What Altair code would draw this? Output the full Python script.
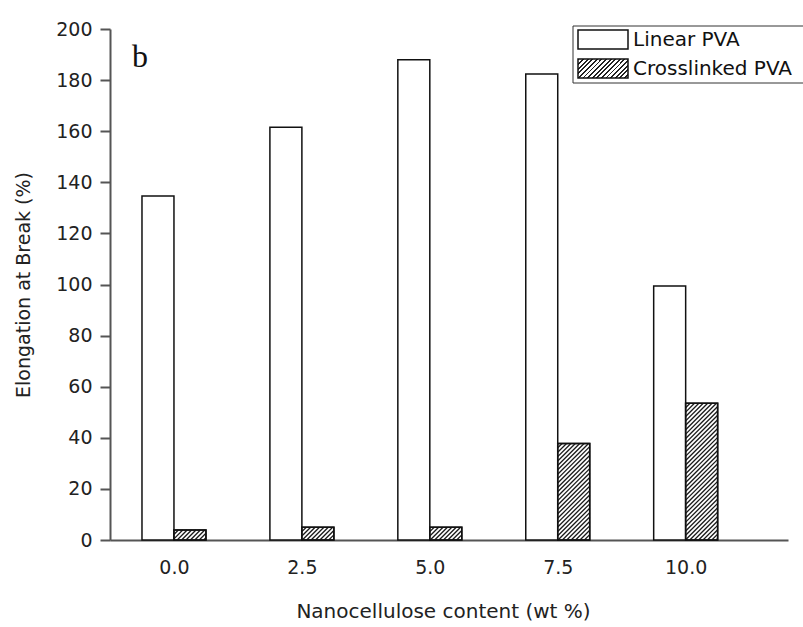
import altair as alt
import pandas as pd

# Elongation at break of PVA films vs. nanocellulose loading
categories = [0.0, 2.5, 5.0, 7.5, 10.0]
linear_pva = [134.6, 161.5, 188.0, 182.4, 99.4]
crosslinked_pva = [3.9, 5.0, 5.0, 37.8, 53.5]
series_names = ["Linear PVA", "Crosslinked PVA"]
y_ticks = list(range(0, 201, 20))

rows = []
for c, a, b in zip(categories, linear_pva, crosslinked_pva):
    rows.append({"c": c, "v": a, "series": series_names[0]})
    rows.append({"c": c, "v": b, "series": series_names[1]})
df = pd.DataFrame(rows)

# geometry constants (x units / y-units-per-x-unit for 45 degree hatching)
PLOT_W, PLOT_H = 678, 511
X_DOMAIN = [-1.25, 12.0]
BAR_W = 0.625
K = (PLOT_W / (X_DOMAIN[1] - X_DOMAIN[0])) / (PLOT_H / 200.0)
STEP = 0.086

FONT = "DejaVu Sans"
AXIS_COLOR = "#555555"
TEXT_COLOR = "#222222"

x_scale = alt.Scale(domain=X_DOMAIN, nice=False, zero=False)
y_scale = alt.Scale(domain=[0, 200], nice=False)

x_axis = alt.Axis(
    values=categories, format=".1f", ticks=False, grid=False,
    labelPadding=18, labelFontSize=19, labelFont=FONT, labelColor=TEXT_COLOR,
    domainColor=AXIS_COLOR, domainWidth=2,
    title="Nanocellulose content (wt %)", titleFont=FONT, titleFontSize=20,
    titleFontWeight="normal", titleColor=TEXT_COLOR,
    titleX=333, titleY=77, titleAlign="center", titleBaseline="alphabetic",
)
y_axis = alt.Axis(
    values=y_ticks, grid=False, tickSize=10, tickWidth=2, tickColor=AXIS_COLOR,
    labelPadding=8, labelFontSize=19, labelFont=FONT, labelColor=TEXT_COLOR,
    domainColor=AXIS_COLOR, domainWidth=2,
    title="Elongation at Break (%)", titleFont=FONT, titleFontSize=19,
    titleFontWeight="normal", titleColor=TEXT_COLOR,
    titleX=-87, titleY=PLOT_H / 2, titleAlign="center", titleBaseline="middle",
    titleAngle=-90,
)

base = alt.Chart(df).transform_calculate(
    x0=f"datum.series == '{series_names[0]}' ? datum.c - {BAR_W} : datum.c",
    x1=f"datum.series == '{series_names[0]}' ? datum.c : datum.c + {BAR_W}",
)

bars = base.mark_rect(fill="white", stroke="#111111", strokeWidth=1.5).encode(
    x=alt.X("x0:Q", scale=x_scale, axis=x_axis),
    x2="x1:Q",
    y=alt.Y("v:Q", scale=y_scale, axis=y_axis),
    y2=alt.datum(0),
)

# diagonal hatching clipped to each crosslinked bar
hatch = alt.Chart(df).transform_filter(
    f"datum.series == '{series_names[1]}'"
).transform_calculate(
    L="datum.c", R=f"datum.c + {BAR_W}", h=f"datum.v / {K}",
).transform_calculate(
    seq=f"sequence(0, ceil(({BAR_W} + datum.h) / {STEP}) + 1)"
).transform_flatten(["seq"]).transform_calculate(
    c0=f"datum.L - datum.h + datum.seq * {STEP}"
).transform_calculate(
    xs="max(datum.L, datum.c0)", xe="min(datum.R, datum.c0 + datum.h)"
).transform_filter("datum.xe > datum.xs + 0.002").transform_calculate(
    ys=f"{K} * (datum.xs - datum.c0)", ye=f"{K} * (datum.xe - datum.c0)"
).mark_rule(color="#1a1a1a", strokeWidth=1.3).encode(
    x=alt.X("xs:Q", scale=x_scale, axis=x_axis),
    x2="xe:Q",
    y=alt.Y("ys:Q", scale=y_scale, axis=y_axis),
    y2="ye:Q",
)

outline = base.transform_filter(
    f"datum.series == '{series_names[1]}'"
).mark_rect(fillOpacity=0, stroke="#111111", strokeWidth=1.5).encode(
    x=alt.X("x0:Q", scale=x_scale, axis=x_axis),
    x2="x1:Q",
    y=alt.Y("v:Q", scale=y_scale, axis=y_axis),
    y2=alt.datum(0),
)

# panel letter
one = pd.DataFrame({"k": [0]})
letter = alt.Chart(one).mark_text(
    text="b", font="Liberation Serif", fontSize=32, align="left",
    baseline="alphabetic", color="#111111",
).encode(x=alt.value(22), y=alt.value(38))

# legend box
legend_box = alt.Chart(one).mark_rect(
    fill="white", stroke="#333333", strokeWidth=1
).encode(x=alt.value(463), x2=alt.value(720), y=alt.value(-3), y2=alt.value(54))

swatch_plain = alt.Chart(one).mark_rect(
    fill="white", stroke="#111111", strokeWidth=1.5
).encode(x=alt.value(468), x2=alt.value(518), y=alt.value(1), y2=alt.value(20))

n_stripes = 15
stops = []
for i in range(n_stripes):
    a = i / n_stripes
    b = (i + 0.4) / n_stripes
    stops += [
        {"offset": a, "color": "#222222"},
        {"offset": b, "color": "#222222"},
        {"offset": b, "color": "#ffffff"},
        {"offset": (i + 1) / n_stripes, "color": "#ffffff"},
    ]
hatch_fill = {"gradient": "linear", "x1": 0, "y1": 0, "x2": 1.206, "y2": 0.458,
              "stops": stops}
swatch_hatch = alt.Chart(one).mark_rect(
    fill=hatch_fill, stroke="#111111", strokeWidth=1.5
).encode(x=alt.value(468), x2=alt.value(518), y=alt.value(30), y2=alt.value(49))

legend_linear = alt.Chart(one).mark_text(
    text=series_names[0], font=FONT, fontSize=20, align="left",
    baseline="middle", color="#111111",
).encode(x=alt.value(523), y=alt.value(11))
legend_cross = alt.Chart(one).mark_text(
    text=series_names[1], font=FONT, fontSize=20, align="left",
    baseline="middle", color="#111111",
).encode(x=alt.value(523), y=alt.value(40))

chart = alt.layer(
    bars, hatch, outline, letter, legend_box, swatch_plain, swatch_hatch,
    legend_linear, legend_cross,
).properties(
    width=PLOT_W, height=PLOT_H,
    autosize=alt.AutoSizeParams(type="none"),
    padding={"left": 110, "top": 29, "right": 15, "bottom": 87},
).configure_view(stroke=None)

chart.save("out.html", embed_options={"renderer": "svg", "actions": False})
